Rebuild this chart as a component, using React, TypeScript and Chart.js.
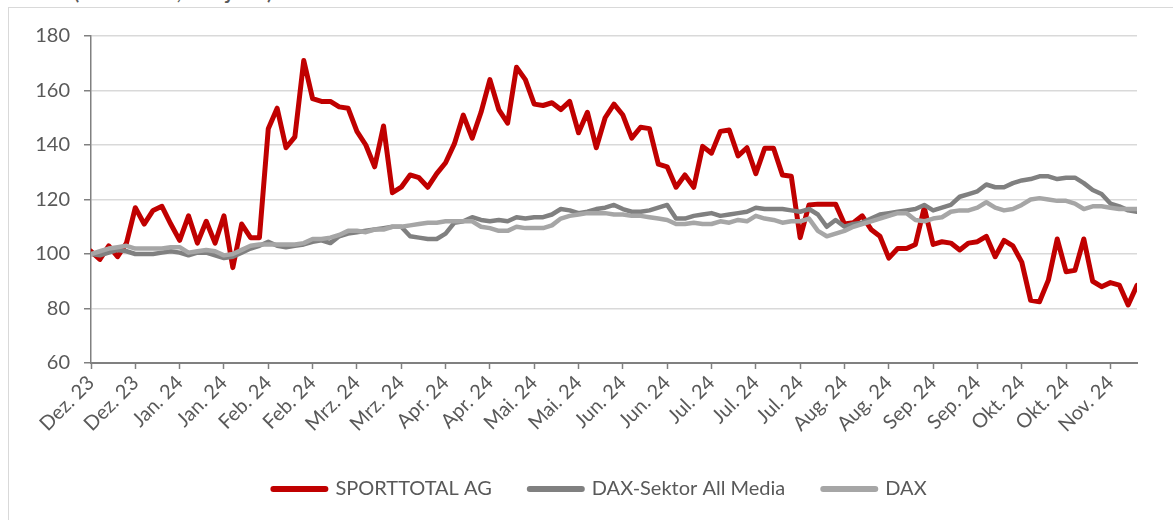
import React, { useEffect, useRef } from "react";
import { Chart, registerables } from "chart.js";

Chart.register(...registerables);

const titleText = "in % (indexiert, Vorjahr)";

const tickLabels = [
  "Dez. 23", "Dez. 23", "Jan. 24", "Jan. 24", "Feb. 24", "Feb. 24",
  "Mrz. 24", "Mrz. 24", "Apr. 24", "Apr. 24", "Mai. 24", "Mai. 24",
  "Jun. 24", "Jun. 24", "Jul. 24", "Jul. 24", "Jul. 24", "Aug. 24",
  "Aug. 24", "Sep. 24", "Sep. 24", "Okt. 24", "Okt. 24", "Nov. 24",
];
const pointsPerTick = 5;

const seriesNames = ["SPORTTOTAL AG", "DAX-Sektor All Media", "DAX"];

const sporttotal = [
  101, 98, 103, 99, 104, 117, 111, 116, 117.5, 111,
  105, 114, 104, 112, 104, 114, 95, 111, 106, 106,
  146, 153.5, 139, 143, 171, 157, 156, 156, 154, 153.5,
  145, 140, 132, 147, 122.5, 124.5, 129, 128, 124.5, 129.5,
  133.5, 140.5, 151, 142.5, 152, 164, 153, 148, 168.5, 164,
  155, 154.5, 155.5, 153, 156, 144.5, 152, 139, 150, 155,
  151, 142.5, 146.5, 146, 133, 132, 124.5, 129, 124.5, 139.5,
  137, 145, 145.5, 136, 139, 129.5, 138.8, 138.8, 129, 128.5,
  106, 118, 118.3, 118.3, 118.3, 111, 111.5, 114, 109, 106.5,
  98.5, 102, 102, 103.5, 117, 103.5, 104.5, 104, 101.5, 104,
  104.5, 106.5, 99, 105, 103, 97, 83, 82.5, 90.4, 105.5,
  93.5, 94, 105.5, 90, 88, 89.5, 88.6, 81.3, 88.5,
];

const daxSektor = [
  100, 99.5, 100.5, 101.5, 101, 100, 100, 100, 100.5, 101,
  100.5, 99.5, 100.5, 100.5, 99.5, 98.5, 99, 100.5, 102, 103,
  104.5, 103, 102.5, 103, 103.5, 104.5, 105, 104, 106.5, 107.5,
  108, 108.5, 109, 109.5, 110, 110, 106.5, 106, 105.5, 105.5,
  107.5, 111.5, 112, 113.5, 112.5, 112, 112.5, 112, 113.5, 113,
  113.5, 113.5, 114.5, 116.5, 116, 115, 115.5, 116.5, 117, 118,
  116.5, 115.5, 115.5, 116, 117, 118, 113, 113, 114, 114.5,
  115, 114, 114.5, 115, 115.5, 117, 116.5, 116.5, 116.5, 116,
  115.5, 116.5, 114.5, 110, 112.5, 110, 111, 111.5, 113, 114.5,
  115, 115.5, 116, 116.5, 118, 116, 117, 118, 121, 122,
  123, 125.5, 124.5, 124.5, 126, 127, 127.5, 128.5, 128.5, 127.5,
  128, 128, 126, 123.5, 122, 118.5, 117.5, 116, 115.5,
];

const dax = [
  100, 101, 102, 102.5, 103, 102, 102, 102, 102, 102.5,
  102.5, 100.5, 101, 101.5, 101, 99.5, 100, 101.5, 103, 103.5,
  103.5, 103.5, 103.5, 103.5, 104, 105.5, 105.5, 106, 107, 108.5,
  108.5, 108, 109, 109, 110, 110, 110.5, 111, 111.5, 111.5,
  112, 112, 112, 112, 110, 109.5, 108.5, 108.5, 110, 109.5,
  109.5, 109.5, 110.5, 113, 114, 114.5, 115, 115, 115, 114.5,
  114.5, 114, 114, 113.5, 113, 112.5, 111, 111, 111.5, 111,
  111, 112, 111.5, 112.5, 112, 114, 113, 112.5, 111.5, 112,
  112, 113, 108.5, 106.5, 107.5, 108.5, 110, 111, 112, 113,
  114, 115, 115, 112.5, 112, 113, 113.5, 115.5, 116, 116,
  117, 119, 117, 116, 116.5, 118, 120, 120.5, 120, 119.5,
  119.5, 118.5, 116.5, 117.5, 117.5, 117, 116.5, 116.5, 116.5,
];

const yMin = 60;
const yMax = 180;
const yStep = 20;

const textColor = "#595959";
const fontFamily = "Lato, 'Open Sans', sans-serif";

export default function App() {
  const canvasRef = useRef<HTMLCanvasElement | null>(null);

  useEffect(() => {
    const canvas = canvasRef.current;
    if (!canvas) return;
    const toPoints = (arr: number[]) => arr.map((v, i) => ({ x: i, y: v }));
    const chart = new Chart(canvas, {
      type: "line",
      data: {
        datasets: [
          {
            label: seriesNames[0],
            data: toPoints(sporttotal),
            borderColor: "#c00000",
            backgroundColor: "#c00000",
            borderWidth: 5,
            order: 3,
          },
          {
            label: seriesNames[1],
            data: toPoints(daxSektor),
            borderColor: "#808080",
            backgroundColor: "#808080",
            borderWidth: 4.5,
            order: 2,
          },
          {
            label: seriesNames[2],
            data: toPoints(dax),
            borderColor: "#a6a6a6",
            backgroundColor: "#a6a6a6",
            borderWidth: 4.5,
            order: 1,
          },
        ],
      },
      options: {
        responsive: false,
        animation: false,
        parsing: false as any,
        normalized: true,
        elements: {
          point: { radius: 0, hoverRadius: 0 },
          line: { tension: 0, borderJoinStyle: "round", borderCapStyle: "round" },
        },
        layout: { padding: { left: 27, top: 36, right: 0, bottom: 11 } },
        scales: {
          x: {
            type: "linear",
            min: 0,
            max: sporttotal.length - 1,
            afterFit: (scale: any) => {
              scale.height = 78;
            },
            ticks: {
              stepSize: pointsPerTick,
              includeBounds: false,
              autoSkip: false,
              maxRotation: 45,
              minRotation: 45,
              color: textColor,
              font: { family: fontFamily, size: 20 },
              padding: 2,
              callback: (v: any) => {
                const idx = Math.round(Number(v) / pointsPerTick);
                return tickLabels[idx] ?? "";
              },
            },
            grid: {
              display: true,
              drawOnChartArea: false,
              drawTicks: true,
              tickLength: 6,
              tickColor: "#808080",
              tickWidth: 1.5,
            },
            border: { display: true, color: "#808080", width: 2 },
          },
          y: {
            min: yMin,
            max: yMax,
            afterFit: (scale: any) => {
              scale.width = 64;
            },
            ticks: {
              stepSize: yStep,
              color: textColor,
              font: { family: fontFamily, size: 20 },
              padding: 14,
            },
            grid: {
              color: "#d9d9d9",
              lineWidth: 1.5,
              tickColor: "#808080",
              tickLength: 7,
              tickWidth: 1.5,
            },
            border: { display: true, color: "#808080", width: 1.5 },
          },
          yRight: {
            position: "right",
            display: true,
            afterFit: (scale: any) => {
              scale.width = 36;
            },
            ticks: { display: false },
            grid: { display: false, drawTicks: false },
            border: { display: false },
          },
        },
        plugins: {
          tooltip: { enabled: false },
          legend: {
            display: true,
            position: "bottom",
            labels: {
              usePointStyle: true,
              pointStyle: "line",
              pointStyleWidth: 52,
              padding: 38,
              color: textColor,
              font: { family: fontFamily, size: 20 },
              sort: (a: any, b: any) => a.datasetIndex - b.datasetIndex,
              generateLabels: (c: any) => {
                const items = (Chart.defaults.plugins.legend.labels as any).generateLabels(c);
                return items.map((it: any) => ({ ...it, lineWidth: 6, lineCap: "round" }));
              },
            },
          },
        },
      },
    });
    return () => chart.destroy();
  }, []);

  return (
    <div
      style={{
        position: "fixed",
        left: 0,
        top: 0,
        width: 1173,
        height: 520,
        overflow: "hidden",
        background: "#ffffff",
      }}
    >
      <div
        style={{
          position: "absolute",
          left: 20,
          top: -23,
          fontFamily,
          fontSize: 25,
          lineHeight: "25px",
          color: textColor,
          whiteSpace: "nowrap",
        }}
      >
        {titleText}
      </div>
      <div
        style={{
          position: "absolute",
          left: 8,
          top: 7,
          width: 1400,
          height: 700,
          borderTop: "1px solid #d9d9d9",
          borderLeft: "1px solid #d9d9d9",
          background: "#ffffff",
        }}
      />
      <canvas
        ref={canvasRef}
        width={1173}
        height={520}
        style={{ position: "absolute", left: 0, top: 0, width: 1173, height: 520 }}
      />
    </div>
  );
}
